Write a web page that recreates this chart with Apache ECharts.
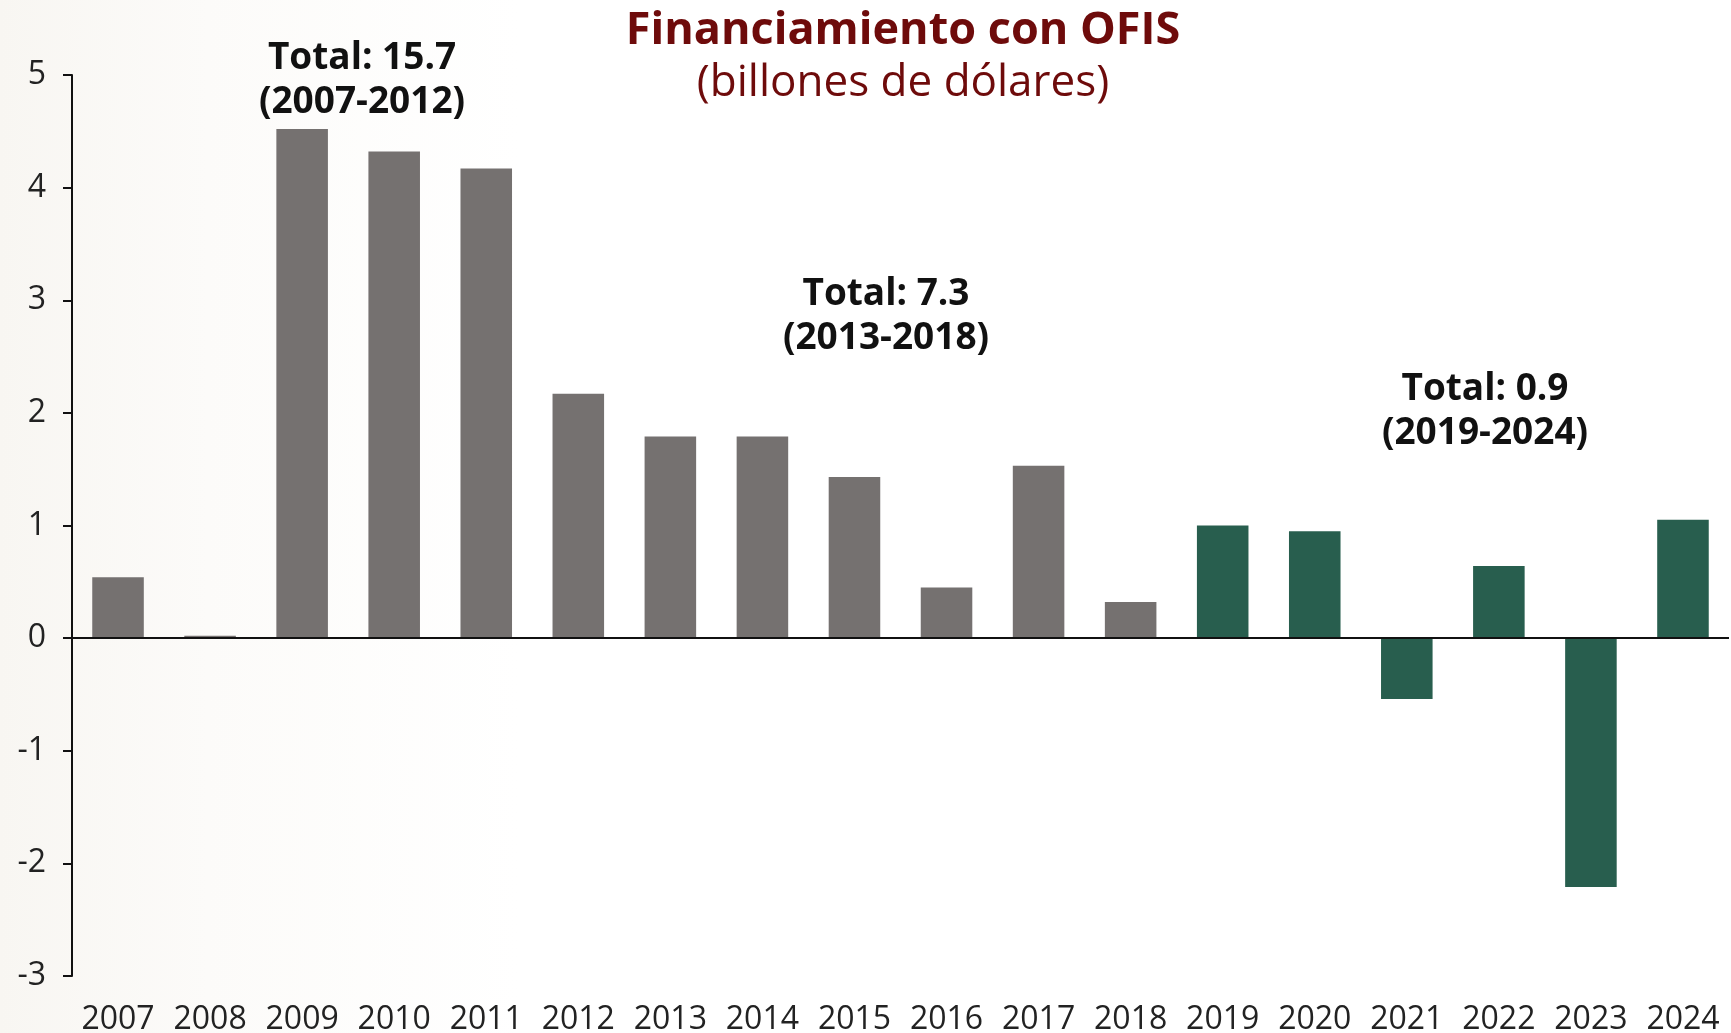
<!DOCTYPE html>
<html>
<head>
<meta charset="utf-8">
<script src="https://cdn.jsdelivr.net/npm/echarts@6/dist/echarts.min.js"></script>
<style>
html,body{margin:0;padding:0;background:#fff;}
#chart{width:1731px;height:1033px;}
</style>
</head>
<body>
<div id="chart"></div>
<script>
const years = ['2007','2008','2009','2010','2011','2012','2013','2014','2015','2016','2017','2018','2019','2020','2021','2022','2023','2024'];
const values = [0.54, 0.02, 4.52, 4.32, 4.17, 2.17, 1.79, 1.79, 1.43, 0.45, 1.53, 0.32, 1.00, 0.95, -0.54, 0.64, -2.21, 1.05];
const periodStart = ['2007','2013','2019'];
const totalLabels = ['Total: 15.7\n(2007-2012)', 'Total: 7.3\n(2013-2018)', 'Total: 0.9\n(2019-2024)'];
const yTicks = [-3, -2, -1, 0, 1, 2, 3, 4, 5];

const grey = '#757170';
const green = '#285e4e';
const font = 'Open Sans, Noto Sans, sans-serif';

const chart = echarts.init(document.getElementById('chart'));
chart.setOption({
  backgroundColor: {
    type: 'linear', x: 0, y: 0, x2: 1, y2: 0,
    colorStops: [{offset: 0, color: '#f8f6f2'}, {offset: 0.12, color: '#fcfbf9'}, {offset: 0.3, color: '#ffffff'}, {offset: 1, color: '#ffffff'}]
  },
  animation: false,
  title: [
    {
      text: 'Financiamiento con OFIS',
      left: 898, top: 4, textAlign: 'center',
      textStyle: {fontFamily: font, fontWeight: 'bold', fontSize: 45, color: '#6e0b0b'}
    },
    {
      text: '(billones de dólares)',
      left: 898, top: 56, textAlign: 'center',
      textStyle: {fontFamily: font, fontWeight: 'normal', fontSize: 44, color: '#6e0b0b'}
    },
    {
      text: totalLabels[0], left: 357, top: 31, textAlign: 'center',
      textStyle: {fontFamily: font, fontWeight: 'bold', fontSize: 37, lineHeight: 44, color: '#111'}
    },
    {
      text: totalLabels[1], left: 881, top: 267, textAlign: 'center',
      textStyle: {fontFamily: font, fontWeight: 'bold', fontSize: 37, lineHeight: 44, color: '#111'}
    },
    {
      text: totalLabels[2], left: 1480, top: 362, textAlign: 'center',
      textStyle: {fontFamily: font, fontWeight: 'bold', fontSize: 37, lineHeight: 44, color: '#111'}
    }
  ],
  grid: {left: 72, right: 2, top: 75, bottom: 57, containLabel: false, outerBoundsMode: 'none'},
  xAxis: {
    type: 'category',
    data: years,
    position: 'bottom',
    axisLine: {show: false, onZero: false},
    axisTick: {show: false},
    axisLabel: {fontFamily: font, fontSize: 32, color: '#222', margin: 28, interval: 0}
  },
  yAxis: {
    type: 'value',
    min: yTicks[0], max: yTicks[yTicks.length - 1], interval: 1,
    axisLine: {show: true, lineStyle: {color: '#111', width: 2}},
    axisTick: {show: true, length: 9, lineStyle: {color: '#111', width: 2}},
    splitLine: {show: false},
    axisLabel: {fontFamily: font, fontSize: 32, color: '#222', margin: 26}
  },
  series: [{
    type: 'bar',
    data: values.map((v, i) => ({
      value: v,
      itemStyle: {color: years[i] >= periodStart[2] ? green : grey}
    })),
    barCategoryGap: '44%',
    markLine: {
      silent: true,
      symbol: 'none',
      label: {show: false},
      lineStyle: {color: '#111', width: 2, type: 'solid'},
      data: [{yAxis: 0}]
    }
  }]
});
</script>
</body>
</html>
